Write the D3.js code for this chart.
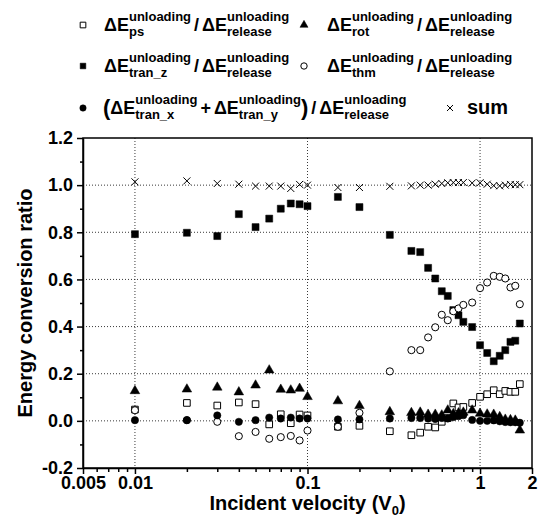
<!DOCTYPE html>
<html>
<head>
<meta charset="utf-8">
<script src="https://cdn.jsdelivr.net/npm/d3@7"></script>
<style>
  body { margin: 0; background: #fff; }
  svg text { font-family: "Liberation Sans", Arial, sans-serif; font-weight: bold; fill: #000; }
  .axis text { font-size: 18px; }
  .axis path, .axis line { stroke: #000; stroke-width: 1.5; }
  .lg-main { font-size: 18px; }
  .lg-small { font-size: 13px; }
</style>
</head>
<body>
<div id="chart"></div>
<script>
const velocity = [0.01, 0.02, 0.03, 0.04, 0.05, 0.06, 0.07, 0.08, 0.09, 0.1,
  0.15, 0.2, 0.3, 0.4, 0.45, 0.5, 0.55, 0.6, 0.65, 0.7, 0.75, 0.8, 0.9,
  1.0, 1.1, 1.2, 1.3, 1.4, 1.5, 1.6, 1.7];

const psRatio = [0.048, 0.076, 0.065, 0.078, 0.071, -0.015, 0.028, -0.01, 0.027, 0.023,
  -0.025, -0.021, -0.044, -0.061, -0.05, -0.025, -0.028, -0.004, 0.012, 0.074, 0.057, 0.059, 0.076,
  0.102, 0.113, 0.13, 0.113, 0.127, 0.123, 0.123, 0.156];

const rotRatio = [0.127, 0.134, 0.142, 0.122, 0.151, 0.215, 0.133, 0.13, 0.137, 0.102,
  0.084, 0.064, 0.038, 0.034, 0.036, 0.027, 0.027, 0.024, 0.045, 0.03, 0.033, 0.036, 0.045,
  0.031, 0.028, 0.027, 0.017, 0.006, 0.004, 0.002, -0.04];

const tranZRatio = [0.792, 0.798, 0.784, 0.877, 0.822, 0.858, 0.90, 0.922, 0.919, 0.911,
  0.95, 0.907, 0.789, 0.721, 0.716, 0.649, 0.604, 0.55, 0.53, 0.47, 0.448, 0.42, 0.398,
  0.321, 0.288, 0.253, 0.276, 0.30, 0.335, 0.34, 0.413];

const thmRatio = [0.045, 0.003, -0.004, -0.065, -0.047, -0.076, -0.069, -0.064, -0.083, -0.041,
  -0.025, 0.034, 0.21, 0.30, 0.30, 0.354, 0.397, 0.45, 0.427, 0.465, 0.477, 0.492, 0.502,
  0.563, 0.587, 0.615, 0.611, 0.604, 0.566, 0.573, 0.495];

const tranXYRatio = [0.003, 0.003, 0.023, -0.004, 0.003, 0.014, 0.01, 0.014, 0.01, 0.01,
  0.006, 0.006, 0.01, 0.012, 0.012, 0.01, 0.008, 0.012, 0.01, 0.016, 0.02, 0.024, 0.004,
  0.0, 0.0, 0.002, -0.002, -0.005, -0.006, -0.006, -0.008];

const sumRatio = [1.014, 1.018, 1.007, 1.004, 0.996, 0.996, 0.996, 0.986, 1.003, 1.0,
  0.99, 0.99, 0.995, 0.997, 1.0, 1.0, 1.004, 1.007, 1.01, 1.011, 1.011, 1.011, 1.009,
  1.01, 1.004, 0.998, 0.997, 1.0, 1.003, 1.002, 1.002];

const xMajorTicks = [0.005, 0.01, 0.1, 1, 2];
const xMinorTicks = [0.006, 0.007, 0.008, 0.009, 0.02, 0.03, 0.04, 0.05, 0.06, 0.07, 0.08, 0.09,
  0.2, 0.3, 0.4, 0.5, 0.6, 0.7, 0.8, 0.9];
const xGrid = [0.01, 0.1, 1];
const yMajorTicks = [-0.2, 0.0, 0.2, 0.4, 0.6, 0.8, 1.0, 1.2];
const yMinorTicks = [-0.1, 0.1, 0.3, 0.5, 0.7, 0.9, 1.1];
const yGrid = [0.0, 0.2, 0.4, 0.6, 0.8, 1.0];

const W = 541, H = 523;
const margin = {top: 138, right: 9, bottom: 55, left: 83};
const width = W - margin.left - margin.right;
const height = H - margin.top - margin.bottom;

const svg = d3.select("#chart").append("svg")
    .attr("width", W)
    .attr("height", H);

const g = svg.append("g")
    .attr("transform", `translate(${margin.left}, ${margin.top})`);

const x = d3.scaleLog()
    .domain([0.005, 2])
    .range([0, width]);

const y = d3.scaleLinear()
    .domain([-0.2, 1.2])
    .range([height, 0]);

// dotted grid
g.selectAll(".hgrid")
    .data(yGrid)
    .enter()
    .append("line")
    .attr("x1", 0).attr("x2", width)
    .attr("y1", d => y(d)).attr("y2", d => y(d))
    .attr("stroke", "#222").attr("stroke-width", 0.9)
    .attr("stroke-dasharray", "1,2");

g.selectAll(".vgrid")
    .data(xGrid)
    .enter()
    .append("line")
    .attr("x1", d => x(d)).attr("x2", d => x(d))
    .attr("y1", 0).attr("y2", height)
    .attr("stroke", "#222").attr("stroke-width", 0.9)
    .attr("stroke-dasharray", "1,2");

// axes
g.append("g")
    .attr("class", "axis")
    .attr("transform", `translate(0, ${height})`)
    .call(d3.axisBottom(x).tickValues(xMinorTicks).tickSize(4).tickFormat(""))
    .select(".domain").remove();

g.append("g")
    .attr("class", "axis")
    .attr("transform", `translate(0, ${height})`)
    .call(d3.axisBottom(x).tickValues(xMajorTicks).tickSize(6).tickSizeOuter(0).tickPadding(2)
        .tickFormat(d => String(d)));

g.append("g")
    .attr("class", "axis")
    .call(d3.axisLeft(y).tickValues(yMinorTicks).tickSize(3).tickFormat(""))
    .select(".domain").remove();

g.append("g")
    .attr("class", "axis")
    .call(d3.axisLeft(y).tickValues(yMajorTicks).tickSize(6).tickSizeOuter(0).tickPadding(4)
        .tickFormat(d => d.toFixed(1)));

// frame
g.append("rect")
    .attr("x", 0).attr("y", 0)
    .attr("width", width).attr("height", height)
    .attr("fill", "none")
    .attr("stroke", "#000")
    .attr("stroke-width", 1.5);

// markers
const crossPath = s => `M${-s},${-s}L${s},${s}M${-s},${s}L${s},${-s}`;

function drawSeries(values, type, filled, size) {
    const pts = velocity.map((v, i) => [v, values[i]]);
    const sel = g.append("g").selectAll("path")
        .data(pts)
        .enter()
        .append("path")
        .attr("transform", d => `translate(${x(d[0])}, ${y(d[1])})`);
    if (type === "cross") {
        sel.attr("d", crossPath(size)).attr("stroke", "#000").attr("stroke-width", 1).attr("fill", "none");
    } else {
        sel.attr("d", d3.symbol().type(type).size(size)())
            .attr("fill", filled ? "#000" : "#fff")
            .attr("stroke", "#000")
            .attr("stroke-width", filled ? 0.5 : 1);
    }
}

drawSeries(psRatio, d3.symbolSquare, false, 44);
drawSeries(tranZRatio, d3.symbolSquare, true, 49);
drawSeries(thmRatio, d3.symbolCircle, false, 40);
drawSeries(rotRatio, d3.symbolTriangle, true, 40);
drawSeries(tranXYRatio, d3.symbolCircle, true, 42);
drawSeries(sumRatio, "cross", false, 3.5);

// axis titles
const xt = svg.append("text")
    .attr("x", margin.left + width / 2)
    .attr("y", 510)
    .attr("text-anchor", "middle")
    .style("font-size", "20px");
xt.append("tspan").text("Incident velocity (V");
xt.append("tspan").attr("dy", 5).style("font-size", "13px").text("0");
xt.append("tspan").attr("dy", -5).text(")");

svg.append("text")
    .attr("transform", `translate(32, ${margin.top + height / 2}) rotate(-90)`)
    .attr("text-anchor", "middle")
    .style("font-size", "20px")
    .text("Energy conversion ratio");

// legend
const lg = svg.append("g");

function term(x0, y0, sub) {
    const m = lg.append("text").attr("class", "lg-main").attr("x", x0).attr("y", y0).text("ΔE");
    const w = m.node().getComputedTextLength();
    const sp = lg.append("text").attr("class", "lg-small").attr("x", x0 + w).attr("y", y0 - 10).text("unloading");
    const sb = lg.append("text").attr("class", "lg-small").attr("x", x0 + w).attr("y", y0 + 5).text(sub);
    return x0 + w + Math.max(sp.node().getComputedTextLength(), sb.node().getComputedTextLength());
}

function plain(x0, y0, s, size) {
    const t = lg.append("text").attr("x", x0).attr("y", y0).style("font-size", size + "px").text(s);
    return x0 + t.node().getComputedTextLength();
}

function ratio(x0, y0, sub) {
    let xx = term(x0, y0, sub);
    xx = plain(xx + 3, y0, "/", 18);
    return term(xx + 3, y0, "release");
}

function legendMark(cx, cy, type, filled) {
    if (type === "cross") {
        lg.append("path").attr("transform", `translate(${cx}, ${cy})`)
            .attr("d", crossPath(3)).attr("stroke", "#000").attr("fill", "none");
        return;
    }
    lg.append("path")
        .attr("transform", `translate(${cx}, ${cy})`)
        .attr("d", d3.symbol().type(type).size(type === d3.symbolTriangle ? 28 : 32)())
        .attr("fill", filled ? "#000" : "#fff")
        .attr("stroke", "#000")
        .attr("stroke-width", filled ? 0.5 : 1);
}

const rowY = [25, 66, 108];
legendMark(83, rowY[0], d3.symbolSquare, false);
ratio(104, rowY[0] + 6, "ps");
legendMark(304, rowY[0], d3.symbolTriangle, true);
ratio(327, rowY[0] + 6, "rot");

legendMark(83, rowY[1], d3.symbolSquare, true);
ratio(104, rowY[1] + 6, "tran_z");
legendMark(304, rowY[1], d3.symbolCircle, false);
ratio(327, rowY[1] + 6, "thm");

legendMark(83, rowY[2], d3.symbolCircle, true);
let lx = plain(103, rowY[2] + 7, "(", 22);
lx = term(lx, rowY[2] + 6, "tran_x");
lx = plain(lx + 3, rowY[2] + 6, "+", 18);
lx = term(lx + 3, rowY[2] + 6, "tran_y");
lx = plain(lx, rowY[2] + 7, ")", 22);
lx = plain(lx + 3, rowY[2] + 6, "/", 18);
term(lx + 3, rowY[2] + 6, "release");
legendMark(450, rowY[2], "cross");
plain(467, rowY[2] + 6, "sum", 20);
</script>
</body>
</html>
